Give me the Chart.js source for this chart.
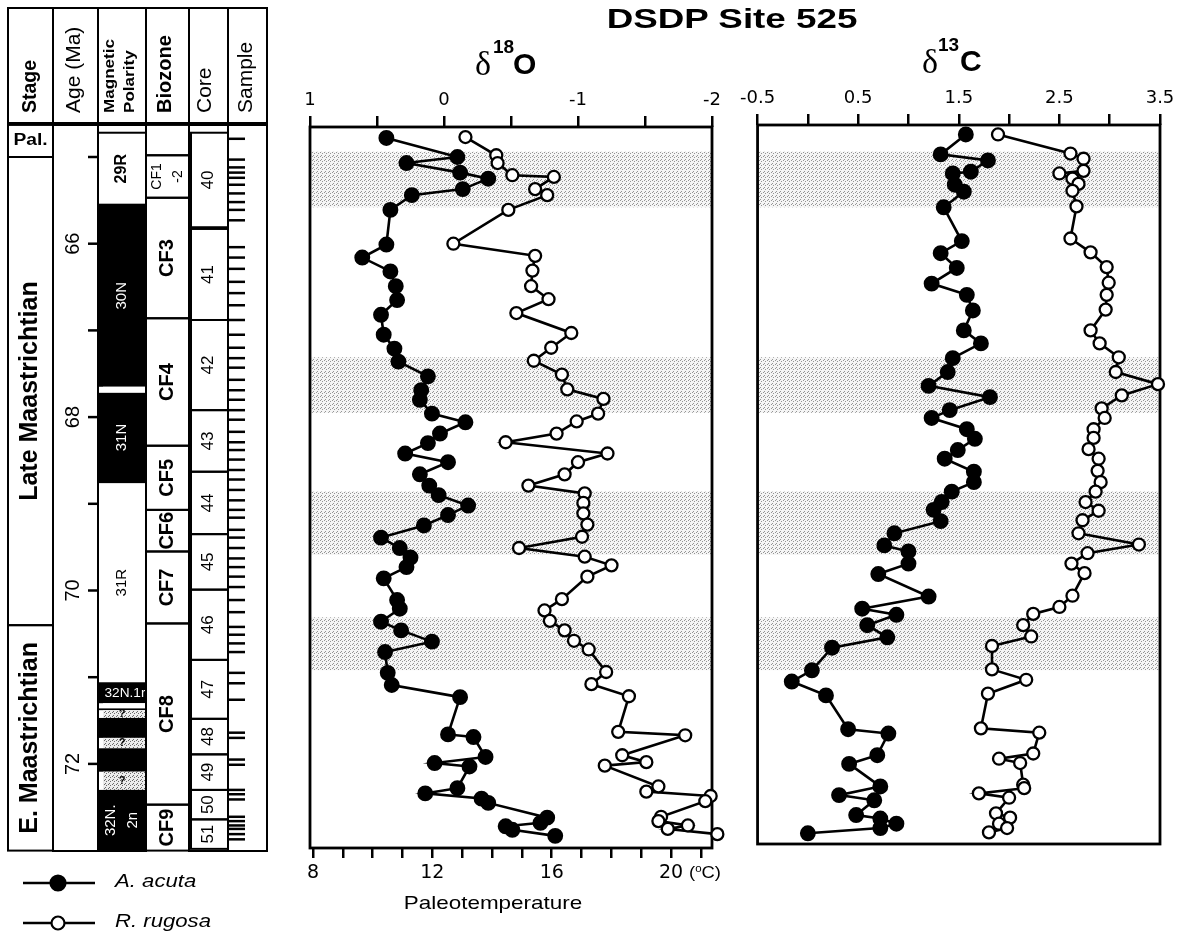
<!DOCTYPE html>
<html lang="en">
<head>
<meta charset="UTF-8">
<title>DSDP Site 525</title>
<script src="https://cdn.jsdelivr.net/npm/chart.js"></script>
<style>
  body { margin: 0; background: #fff; width: 1186px; height: 934px; position: relative; overflow: hidden; }
  canvas { position: absolute; top: 0; }
  .t { position: absolute; white-space: nowrap; line-height: 1; color: #000; font-family: "Liberation Sans", Arial, sans-serif; }
</style>
</head>
<body>
<canvas id="colChart" width="300" height="934" style="left:0"></canvas>
<canvas id="chartO" width="455" height="934" style="left:280px"></canvas>
<canvas id="chartC" width="451" height="934" style="left:735px"></canvas>

<div class="t" style="left:732px;top:4px;font-weight:bold;font-size:28.5px;transform:translateX(-50%) scaleX(1.29)">DSDP Site 525</div>

<div class="t" style="left:475px;top:47px;font-family:'Liberation Serif',serif;font-size:34px">δ</div>
<div class="t" style="left:493px;top:37px;font-weight:bold;font-size:19px">18</div>
<div class="t" style="left:513px;top:49px;font-weight:bold;font-size:30px">O</div>

<div class="t" style="left:922px;top:45px;font-family:'Liberation Serif',serif;font-size:34px">δ</div>
<div class="t" style="left:938px;top:35px;font-weight:bold;font-size:19px">13</div>
<div class="t" style="left:960px;top:46px;font-weight:bold;font-size:30px">C</div>

<div class="t" style="left:493px;top:895px;font-size:17.7px;transform:translateX(-50%) scaleX(1.27)">Paleotemperature</div>
<div class="t" style="left:689px;top:865px;font-size:16px;transform-origin:left;transform:scaleX(1.15)">(<span style="font-size:10px;position:relative;top:-6px">o</span>C)</div>

<script>
// ---- isotope records (age in Ma, values in per mil PDB) ----
const acutaAgeO = [64.78, 65.00, 65.07, 65.18, 65.25, 65.37, 65.44, 65.61, 66.01, 66.16,
  66.32, 66.49, 66.65, 66.82, 67.05, 67.21, 67.36, 67.53, 67.69, 67.80,
  67.96, 68.06, 68.19, 68.30, 68.42, 68.52, 68.66, 68.79, 68.90, 69.02,
  69.13, 69.25, 69.39, 69.51, 69.62, 69.73, 69.86, 70.11, 70.21, 70.36,
  70.46, 70.59, 70.71, 70.95, 71.09, 71.23, 71.66, 71.69, 71.92, 71.99,
  72.03, 72.28, 72.34, 72.40, 72.45, 72.62, 72.68, 72.72, 72.76, 72.83];
const acutaO = [0.43, -0.10, 0.28, -0.12, -0.33, -0.14, 0.24, 0.40, 0.43, 0.61,
  0.40, 0.36, 0.35, 0.47, 0.45, 0.37, 0.34, 0.12, 0.17, 0.18,
  0.09, -0.16, 0.03, 0.12, 0.29, -0.03, 0.18, 0.11, 0.04, -0.18,
  -0.03, 0.15, 0.47, 0.33, 0.25, 0.28, 0.45, 0.35, 0.33, 0.47,
  0.32, 0.09, 0.44, 0.42, 0.39, -0.12, -0.03, -0.22, -0.31, 0.07,
  -0.19, -0.10, 0.14, -0.28, -0.33, -0.77, -0.72, -0.46, -0.51, -0.83];

const rugosaAgeO = [64.77, 64.98, 65.07, 65.21, 65.23, 65.37, 65.44, 65.61, 66.00, 66.14,
  66.31, 66.49, 66.64, 66.80, 67.03, 67.20, 67.35, 67.51, 67.68, 67.79,
  67.96, 68.05, 68.19, 68.29, 68.42, 68.52, 68.66, 68.79, 68.88, 68.99,
  69.11, 69.24, 69.38, 69.51, 69.61, 69.71, 69.84, 70.10, 70.23, 70.35,
  70.46, 70.58, 70.68, 70.94, 71.08, 71.22, 71.63, 71.67, 71.90, 71.98,
  72.02, 72.26, 72.32, 72.37, 72.43, 72.61, 72.66, 72.71, 72.75, 72.81];
const rugosaO = [-0.16, -0.39, -0.40, -0.51, -0.82, -0.68, -0.77, -0.48, -0.07, -0.68,
  -0.66, -0.65, -0.78, -0.54, -0.95, -0.80, -0.67, -0.88, -0.92, -1.19,
  -1.15, -0.99, -0.84, -0.46, -1.22, -1.00, -0.90, -0.63, -1.05, -1.04,
  -1.04, -1.07, -1.03, -0.56, -1.05, -1.25, -1.07, -0.88, -0.75, -0.79,
  -0.90, -0.97, -1.08, -1.21, -1.10, -1.38, -1.30, -1.80, -1.33, -1.51,
  -1.20, -1.60, -1.51, -1.99, -1.95, -1.62, -1.60, -1.82, -1.67, -2.04];

const acutaAgeC = [64.74, 64.97, 65.04, 65.17, 65.19, 65.32, 65.40, 65.58, 65.97, 66.11,
  66.28, 66.46, 66.59, 66.77, 67.00, 67.15, 67.32, 67.48, 67.64, 67.77,
  67.92, 68.01, 68.14, 68.25, 68.38, 68.48, 68.63, 68.75, 68.86, 68.98,
  69.07, 69.20, 69.34, 69.48, 69.55, 69.69, 69.81, 70.07, 70.21, 70.28,
  70.40, 70.54, 70.66, 70.92, 71.05, 71.21, 71.60, 71.65, 71.90, 72.00,
  72.26, 72.36, 72.42, 72.59, 72.63, 72.69, 72.74, 72.80];
const acutaC = [1.57, 1.32, 1.79, 1.62, 1.44, 1.46, 1.55, 1.35, 1.53, 1.32,
  1.48, 1.23, 1.58, 1.64, 1.55, 1.72, 1.44, 1.39, 1.20, 1.81,
  1.41, 1.23, 1.58, 1.66, 1.49, 1.36, 1.65, 1.65, 1.43, 1.33,
  1.25, 1.32, 0.86, 0.76, 1.00, 1.00, 0.70, 1.20, 0.54, 0.88,
  0.59, 0.79, 0.24, 0.04, -0.16, 0.18, 0.40, 0.80, 0.69, 0.41,
  0.72, 0.31, 0.66, 0.48, 0.72, 0.88, 0.72, 0.00];

const rugosaAgeC = [64.74, 64.96, 65.02, 65.16, 65.19, 65.25, 65.31, 65.39, 65.57, 65.94,
  66.10, 66.27, 66.45, 66.59, 66.76, 67.00, 67.15, 67.31, 67.48, 67.62,
  67.75, 67.90, 68.01, 68.14, 68.24, 68.37, 68.48, 68.62, 68.75, 68.86,
  68.98, 69.08, 69.19, 69.34, 69.47, 69.57, 69.69, 69.80, 70.06, 70.19,
  70.27, 70.40, 70.53, 70.64, 70.91, 71.03, 71.19, 71.59, 71.64, 71.88,
  71.94, 71.99, 72.24, 72.28, 72.34, 72.39, 72.57, 72.62, 72.69, 72.74, 72.79];
const rugosaC = [1.89, 2.61, 2.74, 2.74, 2.50, 2.63, 2.69, 2.63, 2.67, 2.61,
  2.81, 2.97, 2.99, 2.97, 2.96, 2.81, 2.90, 3.09, 3.06, 3.48,
  3.12, 2.92, 2.95, 2.84, 2.84, 2.79, 2.89, 2.88, 2.91, 2.86,
  2.76, 2.89, 2.73, 2.69, 3.29, 2.78, 2.62, 2.75, 2.63, 2.50,
  2.24, 2.14, 2.22, 1.83, 1.83, 2.17, 1.79, 1.72, 2.30, 2.24,
  1.90, 2.11, 2.14, 2.15, 1.70, 2.00, 1.87, 2.01, 1.90, 1.98, 1.80];

// ---- axis ticks ----
const d18OTicks = [1, 0.5, 0, -0.5, -1, -1.5, -2];
const d13CTicks = [-0.5, 0, 0.5, 1, 1.5, 2, 2.5, 3, 3.5];
const tempTicks = [8, 9, 10, 11, 12, 13, 14, 15, 16, 17, 18, 19, 20, 21];
const tempLabels = [8, 12, 16, 20];
const ageTicks = [65, 66, 67, 68, 69, 70, 71, 72];
const ageLabels = [66, 68, 70, 72];

// ---- shaded intervals across both isotope panels ----
const bandTop = [64.94, 67.31, 68.86, 70.31];
const bandBase = [65.58, 67.95, 69.59, 70.92];

// ---- stratigraphy ----
const stageBounds = [64.63, 65.00, 70.40, 73.00];
const stageNames = ['Pal.', 'Late Maastrichtian', 'E. Maastrichtian'];

const polarityBounds = [64.72, 65.55, 67.65, 67.72, 68.75, 71.07, 71.30, 71.36, 71.38, 71.47, 71.70, 71.82, 72.09, 72.30, 73.00];
const polarityKind = ['R', 'N', 'r', 'N', 'R', 'N', 'r', 'N', '?', 'N', '?', 'N', '?', 'N'];
const polarityNames = ['29R', '30N', '', '31N', '31R', '32N.1r', '', '', '?', '', '?', '', '?', '32N.\n2n'];

const biozoneBounds = [64.63, 64.98, 65.47, 66.86, 68.33, 69.07, 69.55, 70.38, 72.47, 73.00];
const biozoneNames = ['', 'CF1\n-2', 'CF3', 'CF4', 'CF5', 'CF6', 'CF7', 'CF8', 'CF9'];

const coreTop = [64.72, 65.83, 66.88, 67.92, 68.63, 69.35, 69.99, 70.80, 71.48, 71.89, 72.30, 72.64];
const coreBase = [65.81, 66.88, 67.92, 68.63, 69.35, 69.99, 70.80, 71.48, 71.89, 72.30, 72.64, 72.98];
const coreNames = ['40', '41', '42', '43', '44', '45', '46', '47', '48', '49', '50', '51'];

const sampleAges = [64.79, 65.03, 65.12, 65.18, 65.24, 65.32, 65.42, 65.52, 65.61, 65.73,
  66.04, 66.16, 66.29, 66.44, 66.57, 66.71, 66.88, 67.05, 67.20, 67.32,
  67.43, 67.57, 67.69, 67.80, 67.92, 68.03, 68.17, 68.29, 68.38, 68.49,
  68.61, 68.72, 68.84, 68.96, 69.07, 69.16, 69.30, 69.39, 69.51, 69.63,
  69.73, 69.84, 69.96, 70.11, 70.25, 70.42, 70.51, 70.61, 70.71, 70.95,
  71.07, 71.26, 71.64, 71.70, 71.95, 72.01, 72.30, 72.35, 72.41, 72.61,
  72.66, 72.71, 72.75, 72.81, 72.87];

const FONT = '"Liberation Sans", Arial, sans-serif';
const colEdges = [0, 45, 90, 138, 181, 220, 259]; // column borders, from the left of the column block
const headerTop = 8, headerBottom = 123;

function stipple(ctx, bg, dot, cells) {
  const c = document.createElement('canvas');
  c.width = 4; c.height = 4;
  const g = c.getContext('2d');
  g.fillStyle = bg; g.fillRect(0, 0, 4, 4);
  g.fillStyle = dot;
  cells.forEach(([i, j]) => g.fillRect(i, j, 1, 1));
  return ctx.createPattern(c, 'repeat');
}

// text turned to read bottom-to-top; sx stretches along the text
function rotText(ctx, str, x, y, font, color, align, sx) {
  ctx.save();
  ctx.translate(x, y);
  ctx.rotate(-Math.PI / 2);
  ctx.scale(sx || 1, 1);
  ctx.font = font + ' ' + FONT;
  ctx.fillStyle = color;
  ctx.textAlign = align || 'center';
  ctx.textBaseline = 'middle';
  const lines = str.split('\n');
  const lh = parseFloat(font.match(/([\d.]+)px/)[1]) * 1.45;
  lines.forEach((s, i) => ctx.fillText(s, 0, (i - (lines.length - 1) / 2) * lh));
  ctx.restore();
}

function hText(ctx, str, x, y, font, color, align, sx, baseline) {
  ctx.save();
  ctx.translate(x, y);
  ctx.scale(sx || 1, 1);
  ctx.font = font + ' ' + FONT;
  ctx.fillStyle = color;
  ctx.textAlign = align || 'center';
  ctx.textBaseline = baseline || 'middle';
  const lines = str.split('\n');
  const lh = parseFloat(font.match(/([\d.]+)px/)[1]) * 1.45;
  lines.forEach((s, i) => ctx.fillText(s, 0, (i - (lines.length - 1) / 2) * lh));
  ctx.restore();
}

function hLine(ctx, x0, x1, y) {
  ctx.beginPath(); ctx.moveTo(x0, y); ctx.lineTo(x1, y); ctx.stroke();
}

const stratColumn = {
  id: 'stratColumn',
  afterDraw(chart) {
    const { ctx, chartArea: a, scales: { y } } = chart;
    const X = colEdges.map(e => a.left + e);
    const cx = i => (X[i] + X[i + 1]) / 2;
    const yp = v => y.getPixelForValue(v);
    ctx.save();
    ctx.strokeStyle = '#000';
    ctx.lineWidth = 2;

    // header row
    ctx.strokeRect(X[0], headerTop, X[6] - X[0], headerBottom - headerTop);
    for (let i = 1; i < 6; i++) {
      ctx.beginPath(); ctx.moveTo(X[i], headerTop); ctx.lineTo(X[i], headerBottom); ctx.stroke();
    }
    const base = headerBottom - 10;
    rotText(ctx, 'Stage', cx(0), base, 'bold 19.5px', '#000', 'left');
    rotText(ctx, 'Age (Ma)', cx(1) - 1, base, '21px', '#000', 'left');
    rotText(ctx, 'Magnetic\nPolarity', cx(2) - 2, base, 'bold 14px', '#000', 'left', 1.22);
    rotText(ctx, 'Biozone', cx(3) - 2, base, 'bold 20px', '#000', 'left');
    rotText(ctx, 'Core', cx(4) - 3, base, '21px', '#000', 'left');
    rotText(ctx, 'Sample', cx(5) - 1, base, '21px', '#000', 'left');

    // stages
    stageNames.forEach((n, i) => {
      const t = yp(stageBounds[i]), b = yp(stageBounds[i + 1]);
      ctx.strokeRect(X[0], t, X[1] - X[0], b - t);
      if (b - t < 60) hText(ctx, n, cx(0), (t + b) / 2, 'bold 16px', '#000', 'center', 1.2);
      else rotText(ctx, n, cx(0), (t + b) / 2, 'bold 25px', '#000');
    });

    // age column with ticks
    ctx.strokeRect(X[1], a.top, X[2] - X[1], a.bottom - a.top);
    ctx.lineWidth = 2.5;
    ageTicks.forEach(v => hLine(ctx, X[2] - 10, X[2], yp(v)));
    ageLabels.forEach(v => rotText(ctx, String(v), X[1] + 20, yp(v), '20px', '#000'));
    ctx.lineWidth = 2;

    // magnetic polarity
    const dense = stipple(ctx, '#ececec', '#6a6a6a', [[0, 0], [2, 1], [1, 3]]);
    ctx.strokeRect(X[2], a.top, X[3] - X[2], a.bottom - a.top);
    polarityKind.forEach((k, i) => {
      const t = yp(polarityBounds[i]), b = yp(polarityBounds[i + 1]);
      const x0 = X[2], w = X[3] - X[2];
      if (k === 'N') {
        ctx.fillStyle = '#000'; ctx.fillRect(x0, t, w, b - t);
      } else if (k === 'R') {
        ctx.fillStyle = '#fff'; ctx.fillRect(x0, t, w, b - t);
        ctx.strokeRect(x0, t, w, b - t);
      } else if (k === 'r') {
        ctx.fillStyle = '#fff'; ctx.fillRect(x0 + 5, t, w - 5, b - t);
      } else {
        ctx.fillStyle = dense; ctx.fillRect(x0 + 5, t, w - 5, b - t);
      }
      const n = polarityNames[i];
      if (!n) return;
      const col = k === 'N' ? '#fff' : '#000';
      if (b - t > 50) rotText(ctx, n, cx(2), (t + b) / 2, k === 'R' && i === 0 ? 'bold 16px' : '15px', col);
      else if (k === '?') hText(ctx, n, cx(2), (t + b) / 2, 'bold 11px', col);
      else hText(ctx, n, cx(2) + 3, (t + b) / 2, '13px', col, 'center', 1.05);
    });

    // biozones
    biozoneNames.forEach((n, i) => {
      const t = yp(biozoneBounds[i]), b = yp(biozoneBounds[i + 1]);
      ctx.strokeRect(X[3], t, X[4] - X[3], b - t);
      if (!n) return;
      if (n.includes('\n')) rotText(ctx, n, cx(3), (t + b) / 2, '14px', '#000');
      else rotText(ctx, n, cx(3), (t + b) / 2, 'bold 20px', '#000');
    });

    // cores
    ctx.strokeRect(X[4], a.top, X[5] - X[4], a.bottom - a.top);
    coreNames.forEach((n, i) => {
      const t = yp(coreTop[i]), b = yp(coreBase[i]);
      ctx.strokeRect(X[4] + 2, t, X[5] - X[4] - 2, b - t);
      rotText(ctx, n, cx(4), (t + b) / 2, '17px', '#000');
    });

    // samples
    ctx.strokeRect(X[5], a.top, X[6] - X[5], a.bottom - a.top);
    ctx.lineWidth = 2.5;
    sampleAges.forEach(v => hLine(ctx, X[5], X[5] + 17, yp(v)));

    // legend
    const keys = chart.options.plugins.stratColumn.keys;
    keys.forEach((k, i) => {
      const ly = 883 + i * 40;
      ctx.lineWidth = 2.5;
      hLine(ctx, a.left + 15, a.left + 87, ly);
      ctx.beginPath();
      ctx.arc(a.left + 50, ly, k.r, 0, Math.PI * 2);
      ctx.fillStyle = k.fill; ctx.fill();
      ctx.lineWidth = 2.2; ctx.stroke();
      hText(ctx, k.label, a.left + 107, ly + 4, 'italic 18px', '#000', 'left', 1.23, 'alphabetic');
    });
    ctx.restore();
  }
};

const panelDecor = {
  id: 'panelDecor',
  beforeDatasetsDraw(chart) {
    const { ctx, chartArea: a, scales: { y } } = chart;
    ctx.save();
    ctx.fillStyle = stipple(ctx, '#f5f5f5', '#959595', [[0, 0], [2, 1], [1, 3]]);
    bandTop.forEach((t, i) => {
      const y0 = y.getPixelForValue(t), y1 = y.getPixelForValue(bandBase[i]);
      ctx.fillRect(a.left, y0, a.right - a.left, y1 - y0);
    });
    ctx.lineWidth = 2.8;
    ctx.strokeStyle = '#000';
    ctx.strokeRect(a.left, a.top, a.right - a.left, a.bottom - a.top);
    ctx.restore();
  }
};

function series(label, ages, values, fill, r) {
  return {
    label,
    data: ages.map((a, i) => ({ x: values[i], y: a })),
    showLine: true,
    borderColor: '#000',
    borderWidth: 2.6,
    pointRadius: r,
    pointBackgroundColor: fill,
    pointBorderColor: '#000',
    pointBorderWidth: 2.3,
    clip: false
  };
}

// px per Ma is the same in every panel; these are the ages at each frame edge
const ageAt = px => 65 + (px - 157) / 86.7;

function topAxis(ticks, min, max, reverse, labelFn, height) {
  return {
    type: 'linear', position: 'top', min, max, reverse,
    afterFit: s => { s.height = height; },
    afterBuildTicks: s => { s.ticks = ticks.map(v => ({ value: v })); },
    ticks: { callback: labelFn, color: '#000', padding: 5, maxRotation: 0, autoSkip: false,
             font: { family: 'DejaVu Sans', size: 18 } },
    grid: { drawOnChartArea: false, drawTicks: true, tickLength: 11, color: '#000', lineWidth: 2.5 },
    border: { display: false }
  };
}

const common = {
  responsive: false, animation: false, events: [],
  plugins: { legend: { display: false }, tooltip: { enabled: false } }
};

new Chart(document.getElementById('colChart'), {
  type: 'scatter',
  data: { datasets: [] },
  options: {
    ...common,
    layout: { padding: { left: 8, right: 33, top: 125, bottom: 83 } },
    plugins: { ...common.plugins, stratColumn: { keys: [
      { label: 'A. acuta', fill: '#000', r: 7.5 },
      { label: 'R. rugosa', fill: '#fff', r: 6.5 }
    ] } },
    scales: {
      x: { display: false, min: 0, max: 1 },
      y: { display: false, reverse: true, min: ageAt(125), max: ageAt(851) }
    }
  },
  plugins: [stratColumn]
});

new Chart(document.getElementById('chartO'), {
  type: 'scatter',
  data: { datasets: [
    series('A. acuta', acutaAgeO, acutaO, '#000', 6.8),
    series('R. rugosa', rugosaAgeO, rugosaO, '#fff', 6)
  ] },
  options: {
    ...common,
    layout: { padding: { left: 30, right: 23, top: 0, bottom: 0 } },
    scales: {
      x: topAxis(d18OTicks, -2, 1, true, v => Number.isInteger(v) ? String(v) : '', 127),
      t: {
        type: 'linear', position: 'bottom', min: 7.9, max: 21.37,
        afterFit: s => { s.height = 86; },
        afterBuildTicks: s => { s.ticks = tempTicks.map(v => ({ value: v })); },
        ticks: { callback: v => tempLabels.includes(v) ? String(v) : '', color: '#000', padding: 4,
                 maxRotation: 0, autoSkip: false, font: { family: 'DejaVu Sans', size: 19 } },
        grid: { drawOnChartArea: false, drawTicks: true, tickLength: 10, color: '#000', lineWidth: 2.5 },
        border: { display: false }
      },
      y: { display: false, reverse: true, min: ageAt(127), max: ageAt(848) }
    }
  },
  plugins: [panelDecor]
});

new Chart(document.getElementById('chartC'), {
  type: 'scatter',
  data: { datasets: [
    series('A. acuta', acutaAgeC, acutaC, '#000', 6.8),
    series('R. rugosa', rugosaAgeC, rugosaC, '#fff', 6)
  ] },
  options: {
    ...common,
    layout: { padding: { left: 20, right: 26, top: 0, bottom: 90 } },
    scales: {
      x: topAxis(d13CTicks, -0.5, 3.5, false,
        v => Math.abs((v + 0.5) % 1) < 1e-9 ? v.toFixed(1) : '', 125),
      y: { display: false, reverse: true, min: ageAt(125), max: ageAt(844) }
    }
  },
  plugins: [panelDecor]
});
</script>
</body>
</html>
